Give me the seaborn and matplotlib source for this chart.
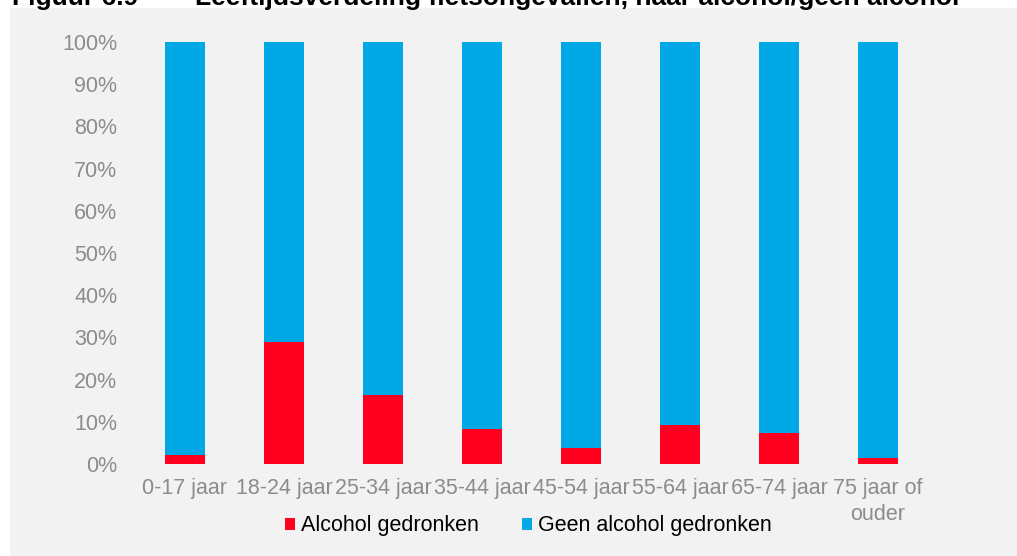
import matplotlib
matplotlib.use("Agg")
import matplotlib.pyplot as plt
import matplotlib.patches as mpatches
import seaborn as sns
import pandas as pd

# Age groups and share of bicycle accidents with / without alcohol (%)
categories = ["0-17 jaar", "18-24 jaar", "25-34 jaar", "35-44 jaar",
              "45-54 jaar", "55-64 jaar", "65-74 jaar", "75 jaar of\nouder"]
alcohol = [2.1, 28.8, 16.3, 8.3, 3.9, 9.2, 7.4, 1.5]
geen_alcohol = [100 - a for a in alcohol]
y_ticks = [0, 10, 20, 30, 40, 50, 60, 70, 80, 90, 100]
y_tick_labels = [f"{t}%" for t in y_ticks]
series_names = ["Alcohol gedronken", "Geen alcohol gedronken"]

RED = "#FF0020"
BLUE = "#00A9E6"
GREY_TXT = "#8C8C8C"
PANEL = "#F2F2F2"
FS = 15.5

sns.set_theme(style="white")
plt.rcParams["font.family"] = ["Liberation Sans", "DejaVu Sans"]

fig = plt.figure(figsize=(10.17, 5.56), dpi=100)
fig.patch.set_facecolor("white")

# light grey chart panel
fig.add_artist(mpatches.Rectangle((10 / 1017, 0), 1 - 10 / 1017, (556 - 8) / 556,
                                  transform=fig.transFigure, facecolor=PANEL,
                                  edgecolor="none", zorder=0))

# figure caption, partly cut off by the top edge
fig.text(12 / 1017, 1 - 5 / 556, "Figuur 6.9", fontsize=19, fontweight="bold",
         color="black", ha="left", va="baseline")
fig.text(195 / 1017, 1 - 5 / 556,
         "Leeftijdsverdeling fietsongevallen, naar alcohol/geen alcohol",
         fontsize=19, fontweight="bold", color="black", ha="left", va="baseline")

ax = fig.add_axes([135.5 / 1017, 1 - 464 / 556, 792 / 1017, 422 / 556])
ax.set_facecolor("none")

df = pd.DataFrame({"cat": categories, "alcohol": alcohol,
                   "totaal": [a + g for a, g in zip(alcohol, geen_alcohol)]})

# stacked bars: full bar in blue, alcohol share in red on top of it
sns.barplot(data=df, x="cat", y="totaal", color=BLUE, width=0.404,
            saturation=1, linewidth=0, ax=ax, zorder=2)
sns.barplot(data=df, x="cat", y="alcohol", color=RED, width=0.404,
            saturation=1, linewidth=0, ax=ax, zorder=3)

ax.set_ylim(0, 100)
ax.set_xlim(-0.5, len(categories) - 0.5)
ax.set_yticks(y_ticks)
ax.set_yticklabels(y_tick_labels)
ax.set_xlabel("")
ax.set_ylabel("")
ax.tick_params(axis="y", length=0, pad=13, labelsize=FS, labelcolor=GREY_TXT)
ax.tick_params(axis="x", length=0, pad=10, labelsize=FS, labelcolor=GREY_TXT)
for lbl in ax.get_xticklabels():
    lbl.set_linespacing(1.35)
for s in ax.spines.values():
    s.set_visible(False)

handles = [mpatches.Patch(facecolor=RED, edgecolor="none"),
           mpatches.Patch(facecolor=BLUE, edgecolor="none")]
fig.legend(handles, series_names, loc="center", bbox_to_anchor=(528 / 1017, 1 - 526 / 556),
           ncol=2, frameon=False, fontsize=FS, handlelength=0.5, handleheight=0.5,
           handletextpad=0.25, columnspacing=2.0, labelcolor="black")

fig.savefig("out.png", dpi=100, facecolor="white")
